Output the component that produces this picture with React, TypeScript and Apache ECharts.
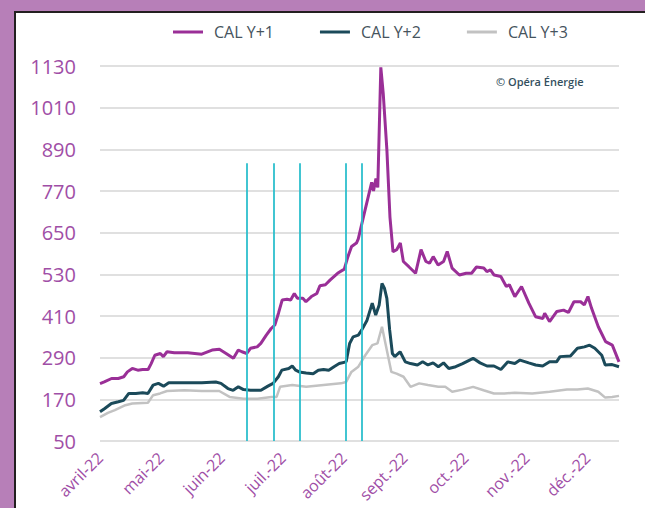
import React, { useEffect, useRef } from "react";
import * as echarts from "echarts";

const monthLabels = ["avril-22", "mai-22", "juin-22", "juil.-22", "août-22", "sept.-22", "oct.-22", "nov.-22", "déc.-22"];
const yTicks = { min: 50, max: 1130, interval: 120 };

// x positions are in months since 1 April 2022
const y1X = [0, 0.07, 0.19, 0.30, 0.39, 0.45, 0.53, 0.62, 0.70, 0.79, 0.84, 0.90, 0.99, 1.04, 1.10, 1.22, 1.44, 1.67, 1.84, 1.96, 2.07, 2.19, 2.27, 2.33, 2.41, 2.47, 2.58, 2.64, 2.73, 2.81, 2.87, 2.93, 2.99, 3.07, 3.13, 3.19, 3.24, 3.33, 3.38, 3.47, 3.56, 3.61, 3.70, 3.78, 3.90, 4.01, 4.07, 4.13, 4.21, 4.24, 4.35, 4.46, 4.49, 4.53, 4.56, 4.61, 4.65, 4.71, 4.76, 4.81, 4.87, 4.93, 4.98, 5.07, 5.18, 5.27, 5.35, 5.41, 5.47, 5.55, 5.64, 5.70, 5.78, 5.90, 6.01, 6.10, 6.18, 6.30, 6.35, 6.41, 6.47, 6.58, 6.67, 6.72, 6.81, 6.92, 7.04, 7.15, 7.27, 7.30, 7.38, 7.50, 7.61, 7.69, 7.78, 7.89, 7.95, 8.01, 8.07, 8.18, 8.30, 8.41, 8.52];
const y1V = [215, 220, 230, 230, 235, 249, 259, 254, 256, 256, 273, 297, 302, 293, 307, 304, 304, 300, 312, 314, 302, 288, 312, 307, 302, 317, 321, 331, 355, 374, 384, 418, 456, 458, 456, 475, 461, 461, 451, 466, 475, 497, 500, 514, 533, 545, 581, 610, 620, 632, 714, 795, 770, 806, 780, 1126, 1050, 887, 695, 595, 601, 620, 567, 552, 533, 601, 567, 562, 581, 557, 567, 596, 548, 528, 533, 533, 551, 548, 538, 543, 528, 524, 495, 500, 466, 495, 447, 408, 403, 418, 394, 423, 427, 420, 451, 451, 442, 466, 432, 379, 336, 326, 278];

const y2X = [0, 0.073, 0.187, 0.302, 0.387, 0.473, 0.587, 0.701, 0.787, 0.872, 0.958, 1.044, 1.129, 1.386, 1.672, 1.900, 1.986, 2.100, 2.186, 2.271, 2.357, 2.471, 2.642, 2.756, 2.842, 2.928, 2.985, 3.099, 3.156, 3.213, 3.270, 3.384, 3.499, 3.584, 3.670, 3.755, 3.841, 3.927, 4.041, 4.098, 4.155, 4.241, 4.298, 4.384, 4.469, 4.526, 4.583, 4.629, 4.669, 4.709, 4.755, 4.800, 4.840, 4.926, 5.012, 5.097, 5.211, 5.297, 5.383, 5.468, 5.554, 5.640, 5.725, 5.839, 5.953, 6.125, 6.239, 6.353, 6.467, 6.581, 6.696, 6.810, 6.895, 7.038, 7.152, 7.267, 7.381, 7.495, 7.552, 7.723, 7.837, 7.952, 8.037, 8.123, 8.237, 8.294, 8.408, 8.52];
const y2V = [134, 143, 158, 163, 167, 187, 187, 189, 187, 211, 216, 208, 218, 218, 218, 220, 216, 201, 196, 206, 198, 196, 196, 208, 216, 235, 254, 259, 266, 254, 249, 246, 244, 254, 256, 254, 264, 273, 278, 331, 350, 355, 370, 398, 447, 413, 442, 504, 490, 461, 370, 302, 293, 307, 278, 273, 269, 278, 269, 275, 264, 275, 259, 264, 273, 288, 275, 266, 266, 256, 278, 273, 283, 275, 269, 266, 278, 278, 293, 295, 317, 321, 326, 317, 297, 269, 270, 264];

const y3X = [0, 0.130, 0.244, 0.416, 0.530, 0.787, 0.872, 0.987, 1.101, 1.386, 1.672, 1.957, 2.128, 2.357, 2.585, 2.814, 2.899, 2.956, 3.156, 3.384, 3.670, 3.955, 4.041, 4.127, 4.241, 4.355, 4.469, 4.555, 4.629, 4.686, 4.783, 4.869, 4.983, 5.097, 5.240, 5.383, 5.554, 5.668, 5.782, 5.953, 6.125, 6.296, 6.467, 6.638, 6.810, 7.095, 7.381, 7.666, 7.837, 8.008, 8.180, 8.294, 8.408, 8.52];
const y3V = [119, 131, 139, 153, 158, 160, 182, 187, 194, 196, 194, 194, 177, 172, 172, 177, 177, 206, 211, 206, 211, 216, 220, 249, 264, 297, 326, 331, 379, 331, 249, 244, 235, 206, 216, 211, 206, 206, 192, 198, 206, 196, 187, 187, 189, 187, 192, 198, 198, 201, 192, 175, 177, 180];

const eventLines = [2.41, 2.86, 3.28, 4.04, 4.29];
const eventTop = 850;

const seriesNames = ["CAL Y+1", "CAL Y+2", "CAL Y+3"];

const zip = (xs: number[], vs: number[]) => xs.map((x, i) => [x, vs[i]]);

export default function App() {
  const ref = useRef<HTMLDivElement>(null);
  useEffect(() => {
    if (!ref.current) return;
    const chart = echarts.init(ref.current, undefined, { renderer: "svg" });
    const font = "'Open Sans', 'Noto Sans', sans-serif";
    chart.setOption({
      animation: false,
      backgroundColor: "transparent",
      textStyle: { fontFamily: font },
      legend: {
        data: seriesNames,
        left: 168,
        top: 19,
        icon: "rect",
        itemWidth: 30,
        itemHeight: 3,
        itemGap: 46,
        textStyle: { color: "#46535d", fontSize: 16, fontFamily: font, padding: [0, 0, 0, 6] },
      },
      grid: { left: 100, right: 26, top: 66, bottom: 67 },
      xAxis: {
        type: "value",
        min: 0,
        max: 8.52,
        interval: 1,
        axisLine: { show: false },
        axisTick: { show: false },
        splitLine: { show: false },
        axisLabel: {
          rotate: 45,
          margin: 14,
          color: "#a04ea6",
          fontSize: 16,
          fontFamily: font,
          formatter: (v: number) => (Number.isInteger(v) && monthLabels[v] ? monthLabels[v] : ""),
        },
      },
      yAxis: {
        type: "value",
        min: yTicks.min,
        max: yTicks.max,
        interval: yTicks.interval,
        axisLine: { show: false },
        axisTick: { show: false },
        splitLine: { lineStyle: { color: "#d6d6d6", width: 1.5 } },
        axisLabel: {
          color: "#a04ea6",
          fontSize: 20,
          margin: 24,
          fontFamily: font,
          formatter: (v: number) => String(v),
        },
      },
      graphic: [
        {
          type: "text",
          left: 496,
          top: 76,
          style: { text: "© Opéra Énergie", fill: "#34505e", font: `600 11px ${font}` },
        },
      ],
      series: [
        {
          name: "CAL Y+1",
          type: "line",
          data: zip(y1X, y1V),
          symbol: "none",
          lineStyle: { color: "#9a2f97", width: 3 },
          itemStyle: { color: "#9a2f97" },
          z: 4,
        },
        {
          name: "CAL Y+2",
          type: "line",
          data: zip(y2X, y2V),
          symbol: "none",
          lineStyle: { color: "#1b4a5a", width: 3 },
          itemStyle: { color: "#1b4a5a" },
          z: 3,
        },
        {
          name: "CAL Y+3",
          type: "line",
          data: zip(y3X, y3V),
          symbol: "none",
          lineStyle: { color: "#c2c2c2", width: 2.5 },
          itemStyle: { color: "#c2c2c2" },
          z: 2,
        },
        {
          name: "events",
          type: "line",
          data: [],
          symbol: "none",
          z: 5,
          markLine: {
            silent: true,
            symbol: "none",
            label: { show: false },
            lineStyle: { color: "#2dbfcd", width: 1.8, type: "solid" },
            data: eventLines.map((x) => [{ coord: [x, yTicks.min] }, { coord: [x, eventTop] }]),
          },
        },
      ],
    });
    return () => chart.dispose();
  }, []);
  return (
    <div style={{ position: "fixed", left: 0, top: 0, width: 645, height: 508, background: "#b77fb8" }}>
      <div
        style={{
          position: "absolute",
          left: 14,
          top: 11,
          right: 0,
          bottom: 0,
          background: "#ffffff",
          borderLeft: "2px solid #231f20",
          borderTop: "2px solid #231f20",
        }}
      />
      <div ref={ref} style={{ position: "absolute", left: 0, top: 0, width: 645, height: 508 }} />
    </div>
  );
}
